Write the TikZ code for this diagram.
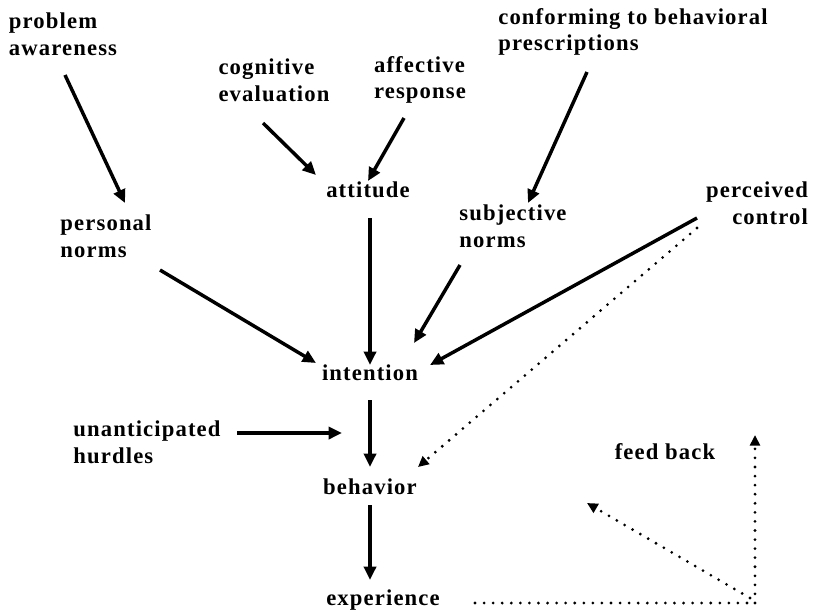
\documentclass[tikz,border=0pt]{standalone}
\usepackage{fontspec}
\setmainfont{Liberation Serif}[LetterSpace=5]
\usetikzlibrary{arrows.meta,calc}
\begin{document}
\begin{tikzpicture}[x=0.75pt,y=-0.75pt,
  lbl/.style={inner sep=0pt,font=\fontsize{17}{20}\selectfont\bfseries,align=left},
  lblr/.style={lbl,align=right},
  arr/.style={line width=2.6pt,-{Triangle[length=10pt,width=9pt]}},
  dotline/.style={line width=2.3pt,line cap=round,dash pattern=on 0pt off 6.8pt},
  dotarr/.style={dotline,-{Triangle[length=8pt,width=7.5pt]}}]
\useasboundingbox (0,0) rectangle (813,612);
% nodes
\node[lbl] (pa) at (63,34) {problem\\awareness};
\node[lbl] (ce) at (274,80) {cognitive\\evaluation};
\node[lbl] (ar) at (420,80) {affective\\response};
\node[lbl] (conf) at (633,32) {conforming to behavioral\\prescriptions};
\node[lbl] (att) at (368,190) {attitude};
\node[lbl] (pn) at (106,236) {personal\\norms};
\node[lbl] (sn) at (513,226) {subjective\\norms};
\node[lblr] (pc) at (757,203) {perceived\\control};
\node[lbl] (int) at (370,373) {intention};
\node[lbl] (uh) at (147,442) {unanticipated\\hurdles};
\node[lbl] (beh) at (370,487) {behavior};
\node[lbl] (exp) at (383,600) {experience};
\node[lbl] (fb) at (665,452) {feed back};
% connectors
\draw[arr] ($(pa)+(2,41)$) -- ($(pn)+(19,-33)$);
\draw[arr] ($(ce)+(-11,43)$) -- ($(att)+(-52,-15)$);
\draw[arr] ($(ar)+(-16,38)$) -- ($(att)+(0,-9)$);
\draw[arr] ($(conf)+(-46,40)$) -- ($(sn)+(15,-23)$);
\draw[arr] ($(att)+(2,28)$) -- ($(int)+(0,-8)$);
\draw[arr] ($(pn)+(54,34)$) -- ($(int)+(-54,-10)$);
\draw[arr] ($(sn)+(-53,39)$) -- ($(int)+(44,-30)$);
\draw[arr] ($(pc)+(-60,15)$) -- ($(int)+(60,-8)$);
\draw[dotarr] ($(pc)+(-60,25)$) -- ($(beh)+(48,-20)$);
\draw[arr] ($(int)+(0,27)$) -- ($(beh)+(0,-20)$);
\draw[arr] ($(uh)+(90,-9)$) -- ($(beh)+(-28,-54)$);
\draw[arr] ($(beh)+(0,18)$) -- ($(exp)+(-13,-20)$);
% feedback loop
\coordinate (fbc) at (755,603);
\coordinate (fbtop) at (755,435);
\coordinate (fbdiag) at (587,503);
\draw[dotline] ($(exp)+(92,3)$) -- (fbc);
\draw[dotarr] (fbc) -- (fbtop);
\draw[dotarr] ($(fbc)+(-5,-5)$) -- (fbdiag);
\end{tikzpicture}
\end{document}
